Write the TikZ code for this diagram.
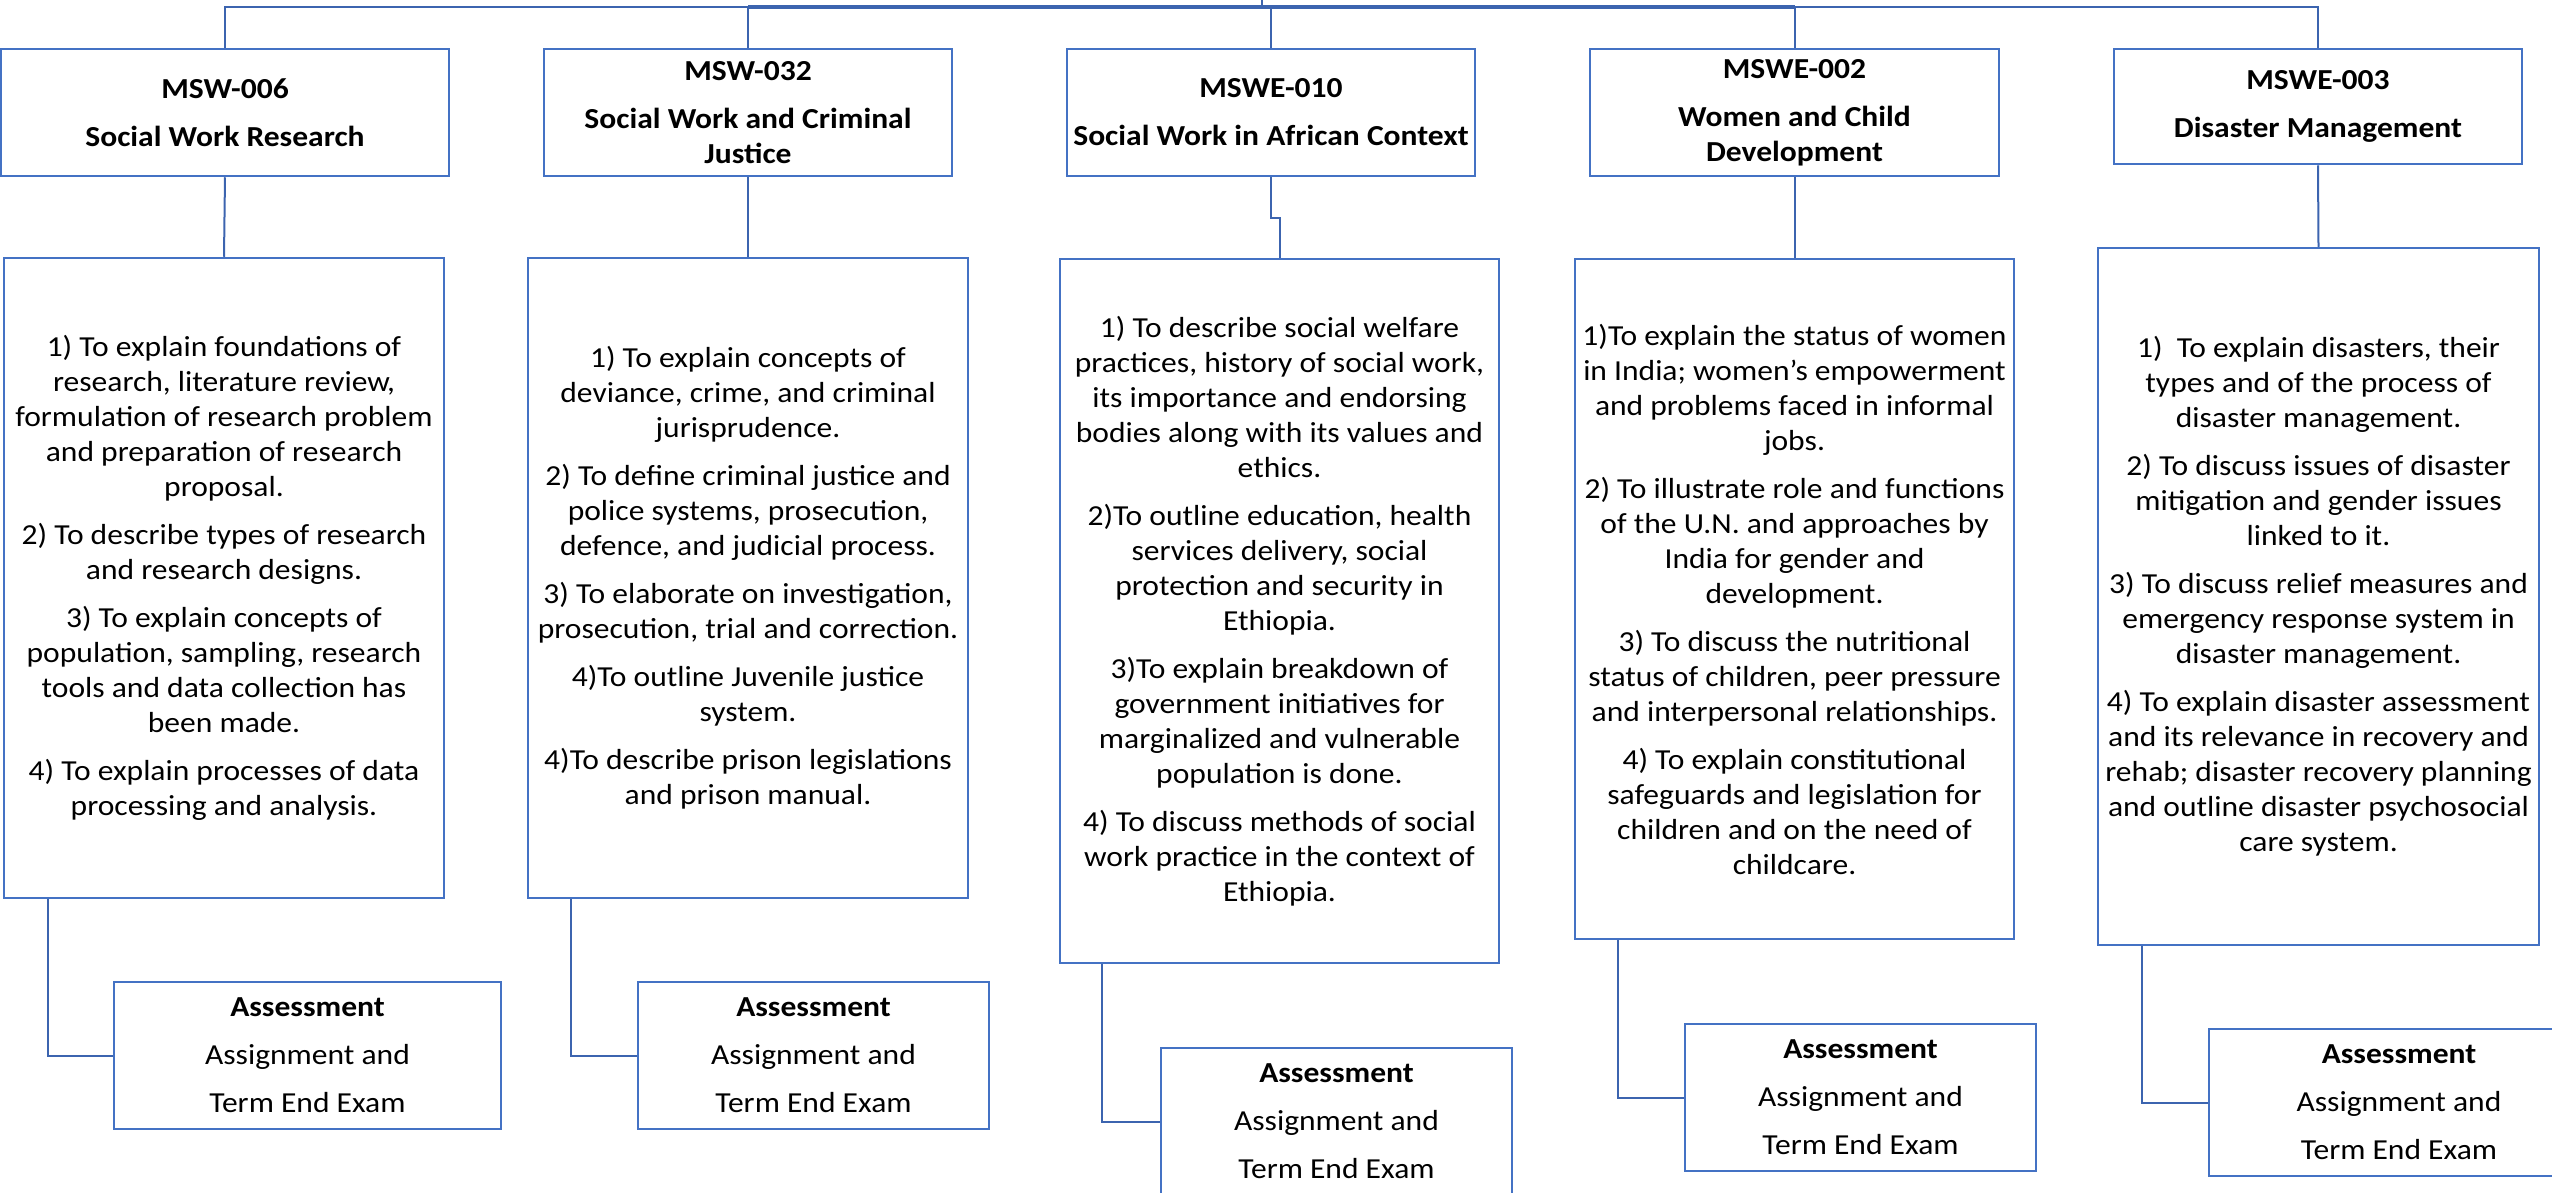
\documentclass[tikz,border=0pt]{standalone}
\usepackage{fontspec}
\setmainfont{Carlito}[FakeStretch=1.088]
\definecolor{boxc}{RGB}{68,114,196}
\definecolor{linec}{RGB}{60,100,175}
\tikzset{
  base/.style={draw=boxc, line width=2.5pt, fill=white, align=center, inner sep=0pt,
    text=black, font=\fontsize{29}{35}\selectfont},
  hdr/.style={base, font=\fontsize{29}{35}\selectfont\bfseries},
  conn/.style={draw=linec, line width=2pt},
}
\begin{document}
\begin{tikzpicture}[x=1pt,y=-1pt]
\useasboundingbox (0,0) rectangle (2552,1192);
\clip (0,0) rectangle (2552,1192);
% header boxes
\node[hdr, minimum width=448, minimum height=127] (h1) at (225,112.5) {MSW-006\\[13pt]Social Work Research};
\node[hdr, minimum width=408, minimum height=127] (h2) at (748,112.5) {MSW-032\\[13pt]Social Work and Criminal\\Justice};
\node[hdr, minimum width=408, minimum height=127] (h3) at (1271,112.5) {MSWE-010\\[13pt]Social Work in African Context};
\node[hdr, minimum width=409, minimum height=127] (h4) at (1794.5,112.5) {MSWE-002\\[13pt]Women and Child\\Development};
\node[hdr, minimum width=408, minimum height=115] (h5) at (2318,106.5) {MSWE-003\\[13pt]Disaster Management};
% objective boxes
\node[base, minimum width=440, minimum height=640] (o1) at (224,578) {1) To explain foundations of\\research, literature review,\\formulation of research problem\\and preparation of research\\proposal.\\[13pt]2) To describe types of research\\and research designs.\\[13pt]3) To explain concepts of\\population, sampling, research\\tools and data collection has\\been made.\\[13pt]4) To explain processes of data\\processing and analysis.};
\node[base, minimum width=440, minimum height=640] (o2) at (748,578) {1) To explain concepts of\\deviance, crime, and criminal\\jurisprudence.\\[13pt]2) To define criminal justice and\\police systems, prosecution,\\defence, and judicial process.\\[13pt]3) To elaborate on investigation,\\prosecution, trial and correction.\\[13pt]4)To outline Juvenile justice\\system.\\[13pt]4)To describe prison legislations\\and prison manual.};
\node[base, minimum width=439, minimum height=704] (o3) at (1279.5,611) {1) To describe social welfare\\practices, history of social work,\\its importance and endorsing\\bodies along with its values and\\ethics.\\[13pt]2)To outline education, health\\services delivery, social\\protection and security in\\Ethiopia.\\[13pt]3)To explain breakdown of\\government initiatives for\\marginalized and vulnerable\\population is done.\\[13pt]4) To discuss methods of social\\work practice in the context of\\Ethiopia.};
\node[base, minimum width=439, minimum height=680] (o4) at (1794.5,599) {1)To explain the status of women\\in India; women’s empowerment\\and problems faced in informal\\jobs.\\[13pt]2) To illustrate role and functions\\of the U.N. and approaches by\\India for gender and\\development.\\[13pt]3) To discuss the nutritional\\status of children, peer pressure\\and interpersonal relationships.\\[13pt]4) To explain constitutional\\safeguards and legislation for\\children and on the need of\\childcare.};
\node[base, minimum width=441, minimum height=697] (o5) at (2318.5,596.5) {1)\ \ To explain disasters, their\\types and of the process of\\disaster management.\\[13pt]2) To discuss issues of disaster\\mitigation and gender issues\\linked to it.\\[13pt]3) To discuss relief measures and\\emergency response system in\\disaster management.\\[13pt]4) To explain disaster assessment\\and its relevance in recovery and\\rehab; disaster recovery planning\\and outline disaster psychosocial\\care system.};
% assessment boxes
\node[base, minimum width=387, minimum height=147] (a1) at (307.5,1055.5) {\textbf{Assessment}\\[13pt]Assignment and\\[13pt]Term End Exam};
\node[base, minimum width=351, minimum height=147] (a2) at (813.5,1055.5) {\textbf{Assessment}\\[13pt]Assignment and\\[13pt]Term End Exam};
\node[base, minimum width=351, minimum height=147] (a3) at (1336.5,1121.5) {\textbf{Assessment}\\[13pt]Assignment and\\[13pt]Term End Exam};
\node[base, minimum width=351, minimum height=147] (a4) at (1860.5,1097.5) {\textbf{Assessment}\\[13pt]Assignment and\\[13pt]Term End Exam};
\node[base, minimum width=380, minimum height=147] (a5) at (2399,1102.5) {\textbf{Assessment}\\[13pt]Assignment and\\[13pt]Term End Exam};
% top bus
\coordinate (bus) at (0,7);
\coordinate (root) at (1262,-5);
\draw[conn] (h1.north) -- (h1.north |- bus) -| (h5.north);
\draw[conn, line width=3.5pt] (h2.north |- bus) -- (h4.north |- bus);
\draw[conn] (h2.north) -- (h2.north |- bus);
\draw[conn] (h3.north) -- (h3.north |- bus);
\draw[conn] (h4.north) -- (h4.north |- bus);
\draw[conn] (root) -- (root |- bus);
% header to objectives
\draw[conn] (h1.south) -- (o1.north);
\draw[conn] (h2.south) -- (o2.north);
\draw[conn] (h3.south) -- ++(0,41) -| (o3.north);
\draw[conn] (h4.south) -- (o4.north);
\draw[conn] (h5.south) -- (o5.north);
% objectives to assessments
\draw[conn] ([xshift=45pt]o1.south west) |- (a1.west);
\draw[conn] ([xshift=44pt]o2.south west) |- (a2.west);
\draw[conn] ([xshift=43.5pt]o3.south west) |- (a3.west);
\draw[conn] ([xshift=44pt]o4.south west) |- (a4.west);
\draw[conn] ([xshift=45pt]o5.south west) |- (a5.west);
\end{tikzpicture}
\end{document}
